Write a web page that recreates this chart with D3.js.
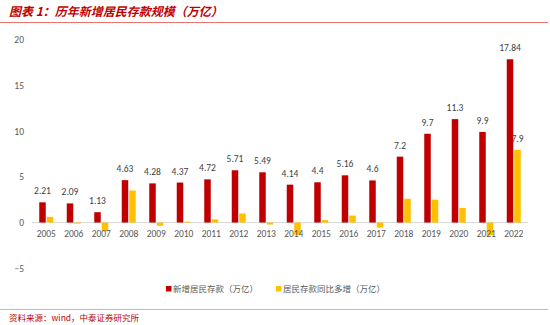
<!DOCTYPE html>
<html><head><meta charset="utf-8">
<script src="https://cdn.jsdelivr.net/npm/d3@7/dist/d3.min.js"></script>
<style>body{margin:0;background:#fff}svg{display:block;font-family:"Microsoft YaHei","Noto Sans CJK SC",sans-serif}</style>
</head><body><svg id="c" width="550" height="325"></svg>
<script>
const years = ["2005","2006","2007","2008","2009","2010","2011","2012","2013","2014","2015","2016","2017","2018","2019","2020","2021","2022"];
const newDeposits = [2.21,2.09,1.13,4.63,4.28,4.37,4.72,5.71,5.49,4.14,4.4,5.16,4.6,7.2,9.7,11.3,9.9,17.84];
const yoyIncrease = [0.62,-0.12,-0.96,3.5,-0.35,0.09,0.35,0.99,-0.22,-1.35,0.26,0.76,-0.56,2.6,2.5,1.6,-1.4,7.94];
const yoyLabels = ["","","","","","","","","","","","","","","","","","7.9"];
const yTicks = [-5,0,5,10,15,20];
const seriesNames = ["新增居民存款（万亿）","居民存款同比多增（万亿）"];
const colors = ["#C00000","#FFC000"];

const svg = d3.select("#c");
const red = "#C00000";
// title
svg.append("text").attr("x",9).attr("y",16).attr("fill",red).attr("font-size",12)
  .attr("font-style","italic").attr("font-weight","bold").text("图表 1：历年新增居民存款规模（万亿）");
svg.append("line").attr("x1",0).attr("x2",548).attr("y1",22.5).attr("y2",22.5).attr("stroke","#E8736F").attr("stroke-width",1);
// source
svg.append("line").attr("x1",0).attr("x2",548).attr("y1",309.5).attr("y2",309.5).attr("stroke","#F0A8A6").attr("stroke-width",1);
svg.append("text").attr("x",9).attr("y",321).attr("fill",red).attr("font-size",8.5)
  .text("资料来源：wind，中泰证券研究所");

const x = d3.scaleBand().domain(years).range([32.5,527.5]).paddingInner(0).paddingOuter(0);
const y = d3.scaleLinear().domain([-5,20]).range([268.3,39.5]);
const bw = 6.5;

// y axis labels
const yAxis = d3.axisLeft(y).tickValues(yTicks).tickSize(0).tickPadding(0);
const ga = svg.append("g").attr("transform","translate(24,0)").call(yAxis);
ga.select(".domain").remove();
ga.selectAll("text").attr("fill","#595959").attr("font-size",9.5).attr("font-family","Calibri,Carlito,'Liberation Sans',sans-serif");

// zero line
svg.append("line").attr("x1",32).attr("x2",528).attr("y1",y(0)).attr("y2",y(0)).attr("stroke","#D9D9D9").attr("stroke-width",1);

const cx = d => x(d) + x.bandwidth()/2;
// bars
svg.selectAll(".r").data(years).enter().append("rect")
  .attr("x",(d)=>cx(d)-bw-0.5).attr("width",bw)
  .attr("y",(d,i)=>y(Math.max(0,newDeposits[i]))).attr("height",(d,i)=>Math.abs(y(newDeposits[i])-y(0)))
  .attr("fill",colors[0]);
svg.selectAll(".yb").data(years).enter().append("rect")
  .attr("x",(d)=>cx(d)+0.5).attr("width",bw)
  .attr("y",(d,i)=>y(Math.max(0,yoyIncrease[i]))).attr("height",(d,i)=>Math.abs(y(yoyIncrease[i])-y(0)))
  .attr("fill",colors[1]);

// x axis labels
const xAxis = d3.axisBottom(x).tickSize(0).tickPadding(0);
const gx = svg.append("g").attr("transform",`translate(0,${y(0)+14})`).call(xAxis);
gx.select(".domain").remove();
gx.selectAll("text").attr("fill","#595959").attr("font-size",9.5).attr("dy",0).attr("font-family","Calibri,Carlito,'Liberation Sans',sans-serif");

// labels
svg.selectAll(".rl").data(years).enter().append("text")
  .attr("x",d=>cx(d)-bw/2-0.5).attr("y",(d,i)=>y(newDeposits[i])-8)
  .attr("text-anchor","middle").attr("fill","#404040").attr("font-size",9.5)
  .attr("font-family","Calibri,Carlito,'Liberation Sans',sans-serif")
  .text((d,i)=>newDeposits[i]);
svg.selectAll(".yl").data(years).enter().append("text")
  .attr("x",d=>cx(d)+bw/2+0.5).attr("y",(d,i)=>y(yoyIncrease[i])-8)
  .attr("text-anchor","middle").attr("fill","#404040").attr("font-size",9.5)
  .attr("font-family","Calibri,Carlito,'Liberation Sans',sans-serif")
  .text((d,i)=>yoyLabels[i]);

// legend
const lg = [[166,seriesNames[0]],[276,seriesNames[1]]];
lg.forEach((l,i)=>{
  svg.append("rect").attr("x",l[0]).attr("y",286).attr("width",5.5).attr("height",5.5).attr("fill",colors[i]);
  svg.append("text").attr("x",l[0]+7).attr("y",292).attr("fill","#595959").attr("font-size",8.5).text(l[1]);
});
</script></body></html>
